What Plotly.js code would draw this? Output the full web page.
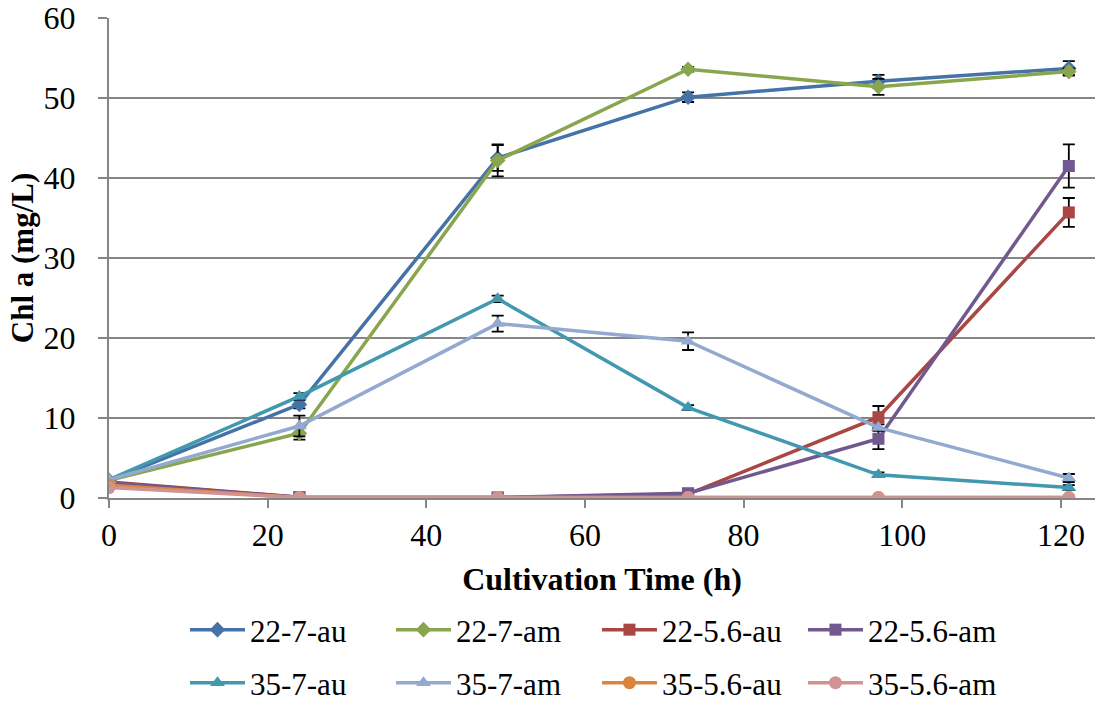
<!DOCTYPE html>
<html>
<head>
<meta charset="utf-8">
<script src="https://cdn.plot.ly/plotly-3.0.1.min.js"></script>
<style>html,body{margin:0;padding:0;background:#fff}#chart{width:1103px;height:702px}</style>
</head>
<body>
<div id="chart"></div>
<script>
// Cultivation time (h)
const timeH = [0, 24, 49, 73, 97, 121];
const seriesNames = ["22-7-au","22-7-am","22-5.6-au","22-5.6-am","35-7-au","35-7-am","35-5.6-au","35-5.6-am"];
// Chl a (mg/L)
const chl_22_7_au   = [2.2, 11.7, 42.5, 50.1, 52.1, 53.7];
const chl_22_7_am   = [2.2, 8.1, 42.2, 53.6, 51.4, 53.3];
const chl_22_56_au  = [2.0, 0.1, 0.05, 0.5, 10.1, 35.7];
const chl_22_56_am  = [1.9, 0.1, 0.05, 0.6, 7.4, 41.5];
const chl_35_7_au   = [2.3, 12.7, 24.9, 11.3, 2.9, 1.3];
const chl_35_7_am   = [2.3, 9.0, 21.8, 19.6, 8.8, 2.5];
const chl_35_56_au  = [1.6, 0.05, 0.05, 0.05, 0.05, 0.05];
const chl_35_56_am  = [1.3, 0.05, 0.05, 0.05, 0.05, 0.05];
// Error bars (standard deviation)
const err_22_7_au   = [0.3, 0.5, 1.6, 0.6, 0.8, 0.9];
const err_22_7_am   = [0.2, 0.8, 2.0, 0.3, 1.0, 0.4];
const err_22_56_au  = [0.1, 0.05, 0.05, 0.2, 1.4, 1.8];
const err_22_56_am  = [0.1, 0.05, 0.05, 0.2, 1.3, 2.7];
const err_35_7_au   = [0.2, 0.4, 0.4, 0.3, 0.3, 0.3];
const err_35_7_am   = [0.2, 1.3, 1.0, 1.1, 0.4, 0.5];
const err_35_56_au  = [0.1, 0, 0, 0, 0, 0];
const err_35_56_am  = [0.1, 0, 0, 0, 0, 0];

const values = [chl_22_7_au, chl_22_7_am, chl_22_56_au, chl_22_56_am, chl_35_7_au, chl_35_7_am, chl_35_56_au, chl_35_56_am];
const errors = [err_22_7_au, err_22_7_am, err_22_56_au, err_22_56_am, err_35_7_au, err_35_7_am, err_35_56_au, err_35_56_am];
const colors = ["#4572A7","#89A54E","#AA4643","#71588F","#4198AF","#93A9CF","#DB843D","#D19392"];
const symbols = ["diamond","diamond","square","square","triangle-up","triangle-up","circle","circle"];
const sizes = [12,12,12,12,13,13,13,13];

const traces = seriesNames.map((n,i)=>({
  type:"scatter", mode:"lines+markers", name:n,
  x: timeH, y: values[i],
  legend: i < 4 ? "legend" : "legend2",
  line:{color:colors[i], width:3.5},
  marker:{symbol:symbols[i], size:sizes[i], color:colors[i]},
  error_y:{type:"data", array:errors[i], visible:true, color:"#000", thickness:1.8, width:6}
}));

const font = "Liberation Serif, Times New Roman, serif";
const legendCommon = {
  orientation:"h", xref:"container", yref:"container",
  x:0.1677, xanchor:"left", yanchor:"middle",
  font:{family:font, size:31, color:"#000"},
  entrywidth:136, entrywidthmode:"pixels",
  itemwidth:55, traceorder:"normal", bgcolor:"rgba(0,0,0,0)"
};
const layout = {
  width:1103, height:702,
  margin:{l:109, r:8, t:18, b:204},
  paper_bgcolor:"#fff", plot_bgcolor:"#fff",
  font:{family:font, size:32, color:"#000"},
  showlegend:true,
  xaxis:{
    range:[0,124.3], dtick:20, tick0:0,
    showgrid:false, zeroline:false,
    showline:true, linecolor:"#868686", linewidth:2,
    ticks:"outside", ticklen:8, tickcolor:"#868686", tickwidth:2,
    tickfont:{family:font, size:32},
    title:{text:"<b>Cultivation Time (h)</b>", font:{family:font, size:32}, standoff:15}
  },
  yaxis:{
    range:[0,60], dtick:10,
    showgrid:true, gridcolor:"#868686", gridwidth:2,
    zeroline:false,
    showline:true, linecolor:"#868686", linewidth:2,
    ticks:"outside", ticklen:9, tickcolor:"#868686", tickwidth:2,
    ticklabelstandoff:16,
    tickfont:{family:font, size:32},
    title:{text:"<b>Chl a (mg/L)</b>", font:{family:font, size:31}, standoff:1}
  },
  legend: Object.assign({}, legendCommon, {y: 1 - 630/702}),
  legend2: Object.assign({}, legendCommon, {y: 1 - 683/702})
};
Plotly.newPlot("chart", traces, layout, {displayModeBar:false, staticPlot:true});
</script>
</body>
</html>
